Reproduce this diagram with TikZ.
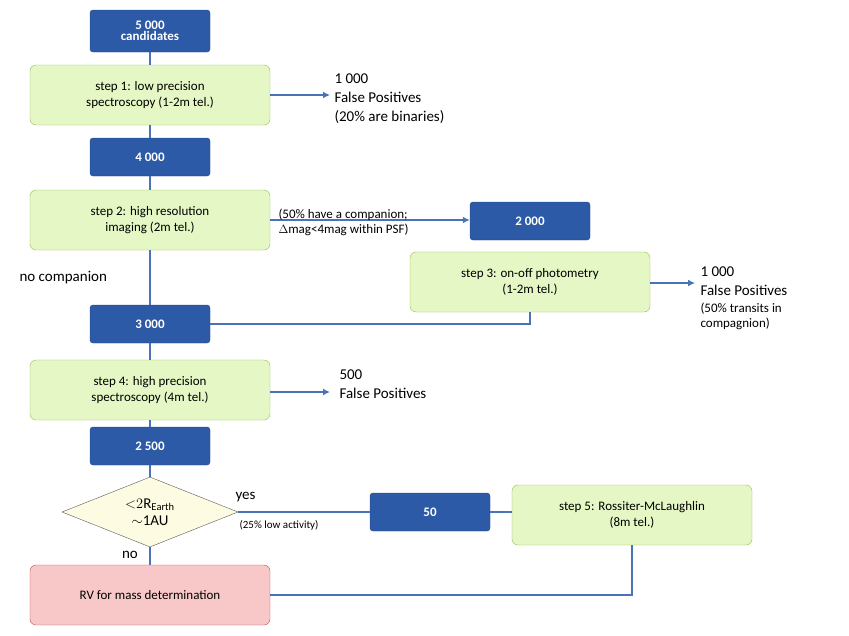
\documentclass[tikz,border=0pt]{standalone}
\usepackage{fontspec}
\setmainfont{Carlito}
\usetikzlibrary{shapes.geometric,arrows.meta}
\definecolor{bluebox}{HTML}{2D5AA6}
\definecolor{blueline}{HTML}{4A72B8}
\definecolor{greenfill}{HTML}{E4F7C4}
\definecolor{greenline}{HTML}{9BBB59}
\definecolor{redfill}{HTML}{F8C8C8}
\definecolor{redline}{HTML}{C0504D}
\tikzset{
  count/.style={rectangle,rounded corners=3pt,fill=bluebox,draw=bluebox!80!black,
    text=white,font=\bfseries\fontsize{13}{14}\selectfont,minimum width=120pt,minimum height=38pt,align=center},
  stepbox/.style={rectangle,rounded corners=6pt,fill=greenfill,draw=greenline,
    font=\fontsize{13}{16}\selectfont,minimum width=240pt,minimum height=60pt,align=center},
  fp/.style={anchor=north west,align=left,font=\fontsize{15}{19}\selectfont},
  link/.style={draw=blueline,line width=2pt},
  arr/.style={link,-{Latex[length=7pt,width=7pt]}}
}
\begin{document}
\begin{tikzpicture}[x=1pt,y=-1pt]
\useasboundingbox (0,0) rectangle (849,635);
% main column
\node[count,minimum height=42pt] (c5000) at (150,31) {5 000\\[-3pt]candidates};
\node[stepbox] (s1) at (150,95) {step 1: low precision\\spectroscopy (1-2m tel.)};
\node[count] (c4000) at (150,157) {4 000};
\node[stepbox] (s2) at (150,220) {step 2: high resolution\\imaging (2m tel.)};
\node[count] (c3000) at (150,324) {3 000};
\node[stepbox] (s4) at (150,390) {step 4: high precision\\spectroscopy (4m tel.)};
\node[count] (c2500) at (150,446) {2 500};
\node[diamond,draw=gray!70!black,fill=gray!15!yellow!12,aspect=2.5,inner sep=1pt,
  minimum width=176pt,minimum height=70pt,font=\fontsize{15}{17}\selectfont,align=center] (d) at (150,512)
  {${<}2\mathrm{R}_{\mathrm{Earth}}$\\$\sim$1AU};
\node[stepbox,fill=redfill,draw=redline] (rv) at (150,595) {RV for mass determination};
% side branches
\node[count] (c2000) at (530,221) {2 000};
\node[stepbox] (s3) at (530,282) {step 3: on-off photometry\\(1-2m tel.)};
\node[count] (c50) at (430,512) {50};
\node[stepbox] (s5) at (632,515) {step 5: Rossiter-McLaughlin\\(8m tel.)};
% false positives
\coordinate (fp1) at (330,95);
\coordinate (fp3) at (695,283);
\coordinate (fp4) at (330,392);
\node[fp] (t1) at (331,70) {1 000\\False Positives\\(20\% are binaries)};
\node[fp] (t3) at (697,263) {1 000\\False Positives\\[-2pt]{\fontsize{13}{16}\selectfont(50\% transits in}\\[-4pt]{\fontsize{13}{16}\selectfont compagnion)}};
\node[fp] (t4) at (336,366) {500\\False Positives};
% connectors
\draw[link] (c5000.south) -- (s1.north) (s1.south) -- (c4000.north) (c4000.south) -- (s2.north)
  (s2.south) -- (c3000.north) (c3000.south) -- (s4.north) (s4.south) -- (c2500.north)
  (c2500.south) -- (d.north) (d.south) -- (rv.north);
\draw[arr] (s1.east) -- (fp1);
\draw[arr] (s4.east |- fp4) -- (fp4);
\draw[arr] (s3.east |- fp3) -- (fp3);
\draw[arr] (s2.east) -- (c2000.west |- s2.east);
\draw[link] (s3.south) |- (c3000.east);
\draw[link] (d.east) -- (c50.west);
\draw[link] (c50.east) -- (s5.west |- c50.east);
\draw[link] (s5.south) |- (rv.east);
% labels
\node[anchor=west,font=\fontsize{13}{15}\selectfont,align=left] (lc) at (275,222)
  {(50\% have a companion;\\$\Delta$mag<4mag within PSF)};
\node[anchor=west,font=\fontsize{15}{17}\selectfont] (nc) at (16,278) {no companion};
\node[anchor=west,font=\fontsize{15}{17}\selectfont] (yes) at (232,497) {yes};
\node[anchor=west,font=\fontsize{11}{13}\selectfont] (act) at (236,525) {(25\% low activity)};
\node[font=\fontsize{15}{17}\selectfont] (no) at (130,555) {no};
\end{tikzpicture}
\end{document}
